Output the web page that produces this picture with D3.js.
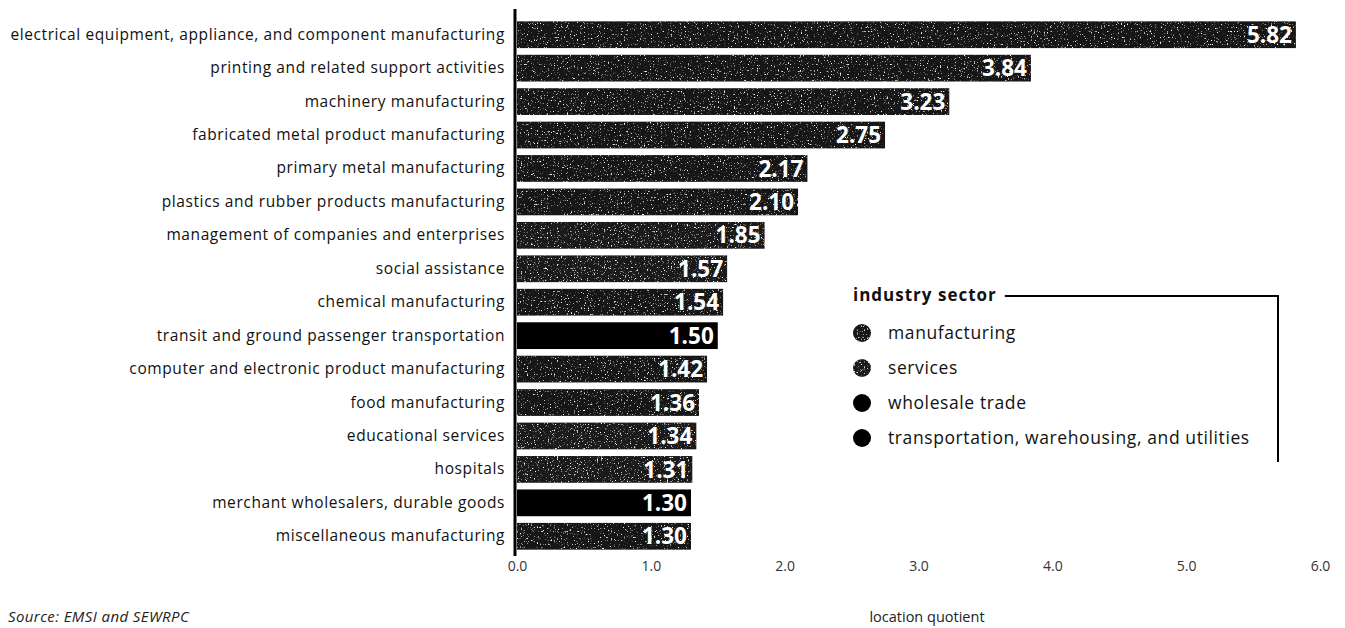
<!DOCTYPE html>
<html>
<head>
<meta charset="utf-8">
<script src="https://cdn.jsdelivr.net/npm/d3@7/dist/d3.min.js"></script>
<style>
  html, body { margin: 0; padding: 0; background: #fff; }
  svg { display: block; font-family: "Open Sans", "Noto Sans", sans-serif; }
</style>
</head>
<body>
<svg id="chart" width="1345" height="628"></svg>
<script>
// Industries with the highest location quotients
const industries = [
  "electrical equipment, appliance, and component manufacturing",
  "printing and related support activities",
  "machinery manufacturing",
  "fabricated metal product manufacturing",
  "primary metal manufacturing",
  "plastics and rubber products manufacturing",
  "management of companies and enterprises",
  "social assistance",
  "chemical manufacturing",
  "transit and ground passenger transportation",
  "computer and electronic product manufacturing",
  "food manufacturing",
  "educational services",
  "hospitals",
  "merchant wholesalers, durable goods",
  "miscellaneous manufacturing"
];
const quotients = [5.82, 3.84, 3.23, 2.75, 2.17, 2.10, 1.85, 1.57, 1.54, 1.50, 1.42, 1.36, 1.34, 1.31, 1.30, 1.30];
const sectorOf = [
  "manufacturing", "manufacturing", "manufacturing", "manufacturing", "manufacturing",
  "manufacturing", "services", "services", "manufacturing", "transportation, warehousing, and utilities",
  "manufacturing", "manufacturing", "services", "services", "wholesale trade", "manufacturing"
];
const sectors = ["manufacturing", "services", "wholesale trade", "transportation, warehousing, and utilities"];
const xTicks = [0, 1, 2, 3, 4, 5, 6];

const rows = industries.map((name, i) => ({ name, value: quotients[i], sector: sectorOf[i] }));

const svg = d3.select("#chart");

// Grainy print texture for the manufacturing and services fills
const defs = svg.append("defs");
function grain(id, seed, gain, cut) {
  const f = defs.append("filter").attr("id", id)
    .attr("x", 0).attr("y", 0).attr("width", 1).attr("height", 1)
    .attr("color-interpolation-filters", "sRGB");
  f.append("feTurbulence").attr("type", "fractalNoise")
    .attr("baseFrequency", 0.7).attr("numOctaves", 2).attr("seed", seed).attr("result", "noise");
  f.append("feColorMatrix").attr("in", "noise").attr("type", "matrix")
    .attr("values", `0 0 0 0 1  0 0 0 0 1  0 0 0 0 1  ${gain} 0 0 0 ${-cut}`).attr("result", "specks");
  f.append("feComposite").attr("in", "specks").attr("in2", "SourceGraphic").attr("operator", "in").attr("result", "clip");
  const m = f.append("feMerge");
  m.append("feMergeNode").attr("in", "SourceGraphic");
  m.append("feMergeNode").attr("in", "clip");
}
grain("grainMfg", 4, 6, 3.72);
grain("grainSvc", 9, 6, 3.66);

const fillOf = d3.scaleOrdinal().domain(sectors).range(["#161616", "#1a1a1a", "#000", "#000"]);
const filterOf = d3.scaleOrdinal().domain(sectors).range(["url(#grainMfg)", "url(#grainSvc)", null, null]);

const x = d3.scaleLinear().domain([0, 6]).range([517, 1320]);
const y = d3.scaleBand().domain(industries).range([18, 553]).paddingInner(0.2).paddingOuter(0.1);

// Bars
svg.append("g").selectAll("rect").data(rows).join("rect")
  .attr("x", x(0))
  .attr("y", d => y(d.name))
  .attr("width", d => x(d.value) - x(0))
  .attr("height", y.bandwidth())
  .attr("fill", d => fillOf(d.sector))
  .attr("filter", d => filterOf(d.sector));

// Value labels inside the bar ends
svg.append("g").selectAll("text").data(rows).join("text")
  .attr("x", d => x(d.value) - 4)
  .attr("y", d => y(d.name) + y.bandwidth() / 2)
  .attr("dy", "0.36em")
  .attr("text-anchor", "end")
  .attr("fill", "#fff")
  .attr("font-size", 22.5)
  .attr("font-weight", 700)
  .text(d => d.value.toFixed(2));

// Category axis
const yAxis = svg.append("g").attr("transform", `translate(${x(0) - 2},0)`)
  .call(d3.axisLeft(y).tickSize(0).tickPadding(10));
yAxis.select(".domain").remove();
yAxis.append("line").attr("x1", 0).attr("x2", 0).attr("y1", 9).attr("y2", 556)
  .attr("stroke", "#000").attr("stroke-width", 3);
yAxis.selectAll(".tick text").attr("font-size", 15.5).attr("fill", "#111")
  .attr("letter-spacing", 0.6)
  .attr("font-family", "'Open Sans', sans-serif");

// Value axis (labels only)
const xAxis = svg.append("g").attr("transform", "translate(0,558)")
  .call(d3.axisBottom(x).tickValues(xTicks).tickFormat(d3.format(".1f")).tickSize(0).tickPadding(3));
xAxis.select(".domain").remove();
xAxis.selectAll(".tick text").attr("font-size", 14).attr("fill", "#333")
  .attr("font-family", "'Open Sans', sans-serif");

svg.append("text").attr("x", 927).attr("y", 622)
  .attr("text-anchor", "middle").attr("font-size", 14.5).attr("fill", "#222")
  .text("location quotient");

svg.append("text").attr("x", 8).attr("y", 622)
  .attr("font-size", 15).attr("font-style", "italic").attr("fill", "#222")
  .attr("letter-spacing", 0.4)
  .text("Source: EMSI and SEWRPC");

// Legend
const legend = svg.append("g").attr("transform", "translate(853,0)");
const title = legend.append("text").attr("x", 0).attr("y", 301)
  .attr("font-size", 17).attr("font-weight", 700).attr("fill", "#111")
  .attr("letter-spacing", 1)
  .text("industry sector");
const tw = title.node().getComputedTextLength();
legend.append("path")
  .attr("d", `M${tw + 8},296H425V462`)
  .attr("fill", "none").attr("stroke", "#000").attr("stroke-width", 2);
const ly = d3.scalePoint().domain(sectors).range([333, 438]);
const item = legend.selectAll("g.item").data(sectors).join("g").attr("class", "item")
  .attr("transform", d => `translate(0,${ly(d)})`);
item.append("circle").attr("cx", 9).attr("cy", 0).attr("r", 9)
  .attr("fill", d => fillOf(d)).attr("filter", d => filterOf(d));
item.append("text").attr("x", 35).attr("dy", "0.35em")
  .attr("font-size", 17.5).attr("fill", "#111").attr("letter-spacing", 0.6).text(d => d);
</script>
</body>
</html>
